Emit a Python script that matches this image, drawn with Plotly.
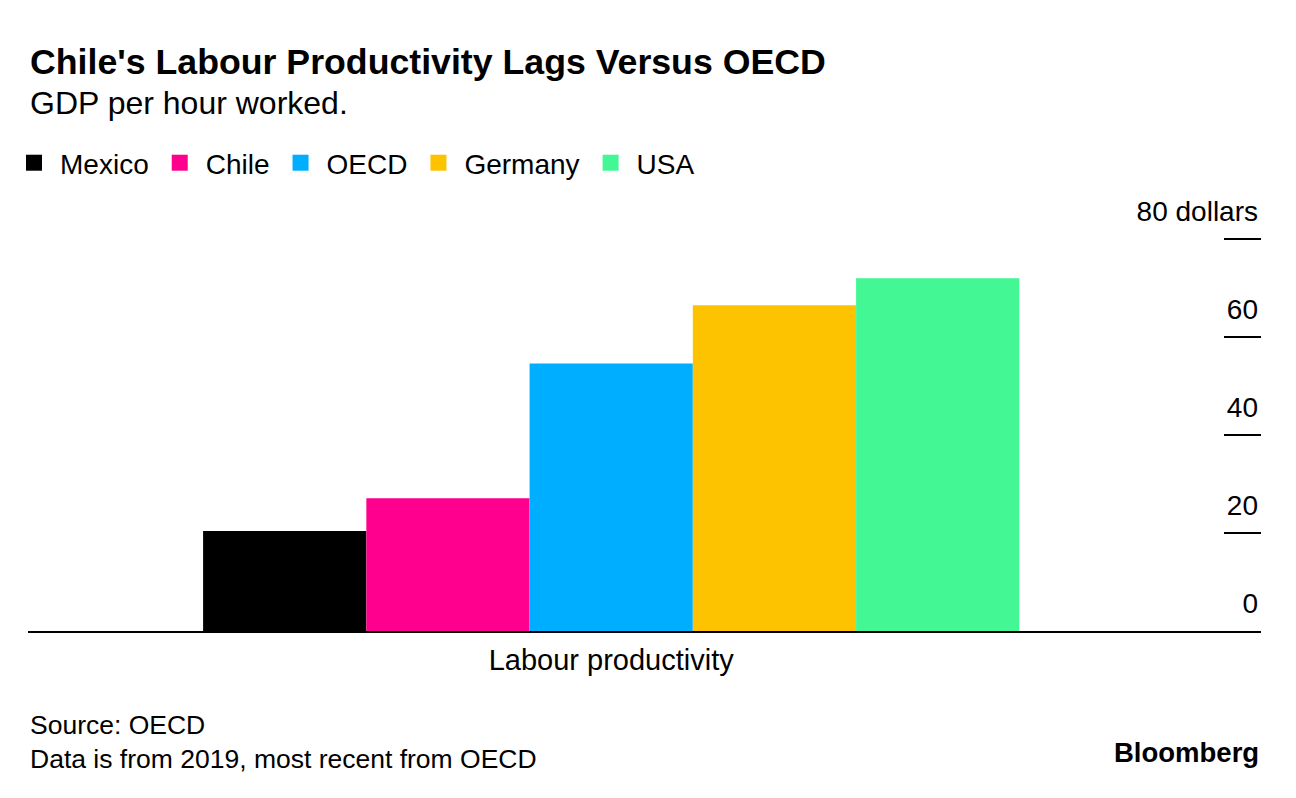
import plotly.graph_objects as go

category = ["Labour productivity"]
series_names = ["Mexico", "Chile", "OECD", "Germany", "USA"]
series_values = [20.4, 27.1, 54.6, 66.5, 72.0]
series_colors = ["#000000", "#FF008E", "#00AEFF", "#FDC300", "#42F794"]
tick_values = [0, 20, 40, 60, 80]
tick_labels = ["0", "20", "40", "60", "80 dollars"]

FONT = "Liberation Sans"

fig = go.Figure()
for name, val, col in zip(series_names, series_values, series_colors):
    fig.add_trace(go.Bar(x=category, y=[val], name=name, marker=dict(color=col, line=dict(width=0)),
                         showlegend=False))
for name, col in zip(series_names, series_colors):
    fig.add_trace(go.Scatter(x=[None], y=[None], mode="markers", name=name,
                             marker=dict(symbol="square", size=16, color=col)))

fig.update_layout(
    width=1288, height=790,
    margin=dict(l=20, r=35, t=182, b=167, autoexpand=False),
    paper_bgcolor="white", plot_bgcolor="white",
    barmode="group", bargap=0.338, bargroupgap=0,
    font=dict(family=FONT, color="black", size=28),
    legend=dict(orientation="h", x=-0.0162, xanchor="left", y=1.0612, yanchor="middle",
                font=dict(size=28, family=FONT, color="black"), itemclick=False,
                bgcolor="rgba(0,0,0,0)", borderwidth=0, itemwidth=42),
    xaxis=dict(range=[-0.473, 0.527], showline=True, linecolor="black", linewidth=2, ticks="",
               showgrid=False, tickfont=dict(family=FONT, size=29, color="black"),
               ticklabelstandoff=2),
    yaxis=dict(range=[0, 90], side="right", ticks="inside", ticklen=37, tickwidth=2,
               tickcolor="black", showgrid=False, zeroline=False, showline=False,
               tickvals=tick_values, ticktext=tick_labels, ticklabelposition="inside top",
               ticklabelshift=-7, tickfont=dict(size=28, family=FONT, color="black")),
    annotations=[
        dict(text="<b>Chile's Labour Productivity Lags Versus OECD</b>", xref="paper", yref="paper",
             x=0, y=1.2902, xanchor="left", yanchor="middle", showarrow=False,
             font=dict(size=35.7, family=FONT, color="black")),
        dict(text="GDP per hour worked.", xref="paper", yref="paper",
             x=0, y=1.1973, xanchor="left", yanchor="middle", showarrow=False,
             font=dict(size=32, family=FONT, color="black")),
        dict(text="Source: OECD<br>Data is from 2019, most recent from OECD", xref="paper", yref="paper",
             x=0, y=-0.2517, xanchor="left", yanchor="middle", align="left", showarrow=False,
             font=dict(size=26.5, family=FONT, color="black")),
        dict(text="<b>Bloomberg</b>", xref="paper", yref="paper",
             x=1.0, y=-0.2766, xanchor="right", yanchor="middle", showarrow=False,
             font=dict(size=27.5, family=FONT, color="black")),
    ],
)

fig.write_html("out.html")
